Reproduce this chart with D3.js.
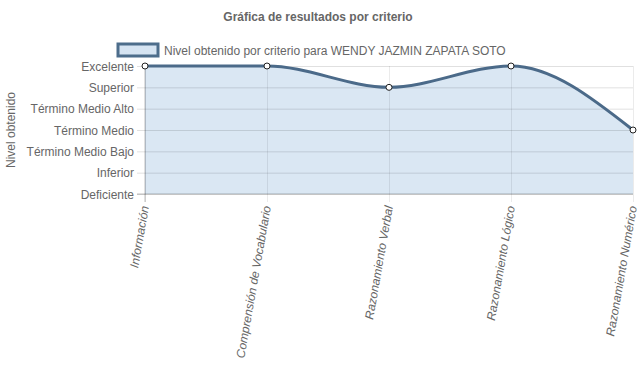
<!DOCTYPE html>
<html>
<head>
<meta charset="utf-8">
<script src="https://cdn.jsdelivr.net/npm/d3@7"></script>
<style>
  body { margin: 0; background: #fff; }
  svg text { font-family: "Liberation Sans", Arial, Helvetica, sans-serif; fill: #666; }
</style>
</head>
<body>
<div class="chart"></div>
<script>
(function(){
    // niveles del eje y, de arriba hacia abajo
    const levels = ['Excelente', 'Superior', 'Término Medio Alto', 'Término Medio', 'Término Medio Bajo', 'Inferior', 'Deficiente'];
    const criteria = ['Información', 'Comprensión de Vocabulario', 'Razonamiento Verbal', 'Razonamiento Lógico', 'Razonamiento Numérico'];
    const results = ['Excelente', 'Excelente', 'Superior', 'Excelente', 'Término Medio'];
    const seriesName = 'Nivel obtenido por criterio para WENDY JAZMIN ZAPATA SOTO';

    const svg_width = 637;
    const svg_height = 389;
    const margin = { top: 66, right: 4, bottom: 195, left: 145 };
    const chart_width = svg_width - margin.left - margin.right;
    const chart_height = svg_height - margin.top - margin.bottom;

    const svg = d3.select('.chart').append('svg')
        .attr('width', svg_width).attr('height', svg_height);

    // titulo
    svg.append('text')
        .attr('x', 318).attr('y', 21)
        .style('text-anchor', 'middle')
        .style('font-size', '12px').style('font-weight', 'bold')
        .text('Gráfica de resultados por criterio');

    // leyenda
    const legend = svg.append('g').attr('transform', 'translate(118,44)');
    legend.append('rect')
        .attr('width', 40).attr('height', 12)
        .style('fill', '#d6e4f2').style('stroke', '#4d6d8b').style('stroke-width', 3);
    legend.append('text')
        .attr('x', 46).attr('y', 10.5)
        .style('font-size', '12px')
        .text(seriesName);

    const g = svg.append('g').attr('transform', `translate(${margin.left},${margin.top})`);

    const xScale = d3.scalePoint().domain(criteria).range([0, chart_width]);
    const yScale = d3.scalePoint().domain(levels).range([0, chart_height]);

    const points = criteria.map((c, i) => ({ c: c, level: results[i] }));

    // area y linea
    const area = d3.area()
        .x(d => xScale(d.c))
        .y0(chart_height)
        .y1(d => yScale(d.level))
        .curve(d3.curveMonotoneX);
    const line = d3.line()
        .x(d => xScale(d.c))
        .y(d => yScale(d.level))
        .curve(d3.curveMonotoneX);

    g.append('path').attr('d', area(points)).style('fill', '#dae7f3');

    // ejes con rejilla
    const yAxis = d3.axisLeft(yScale).tickSizeInner(-chart_width - 8).tickSizeOuter(0).tickPadding(3);
    const yG = g.append('g').attr('class', 'y axis')
        .attr('transform', 'translate(-8,0)')
        .call(yAxis);
    yG.select('.domain').remove();
    yG.selectAll('line').style('stroke', 'rgba(0,0,0,0.12)');
    yG.selectAll('text').style('font-size', '12px').attr('dy', '0.35em').style('fill', '#666');

    const xAxis = d3.axisBottom(xScale).tickSizeInner(-chart_height - 8).tickSizeOuter(0);
    const xG = g.append('g').attr('class', 'x axis')
        .attr('transform', `translate(0,${chart_height + 8})`)
        .call(xAxis);
    xG.select('.domain').remove();
    xG.selectAll('line').style('stroke', 'rgba(0,0,0,0.08)');
    xG.selectAll('text')
        .style('font-size', '12px').style('font-style', 'italic').style('fill', '#666')
        .style('text-anchor', 'end')
        .attr('x', 0).attr('y', 0).attr('dy', '0.35em')
        .attr('transform', 'rotate(-80) translate(-4,0)');

    // lineas del eje
    g.append('line').attr('x1', 0).attr('x2', 0).attr('y1', 0).attr('y2', chart_height + 8)
        .style('stroke', 'rgba(0,0,0,0.25)');
    g.append('line').attr('x1', -8).attr('x2', chart_width).attr('y1', chart_height).attr('y2', chart_height)
        .style('stroke', 'rgba(0,0,0,0.25)');

    g.append('path').attr('d', line(points))
        .style('fill', 'none').style('stroke', '#4b6a89').style('stroke-width', 3);

    g.selectAll('.pt').data(points).enter()
        .append('circle').attr('class', 'pt')
        .attr('cx', d => xScale(d.c)).attr('cy', d => yScale(d.level))
        .attr('r', 3)
        .style('fill', '#fff').style('stroke', '#222').style('stroke-width', 1);

    // titulo eje y
    svg.append('text')
        .attr('transform', `translate(15,${margin.top + chart_height / 2}) rotate(-90)`)
        .style('text-anchor', 'middle').style('font-size', '12px')
        .text('Nivel obtenido');
})();
</script>
</body>
</html>
